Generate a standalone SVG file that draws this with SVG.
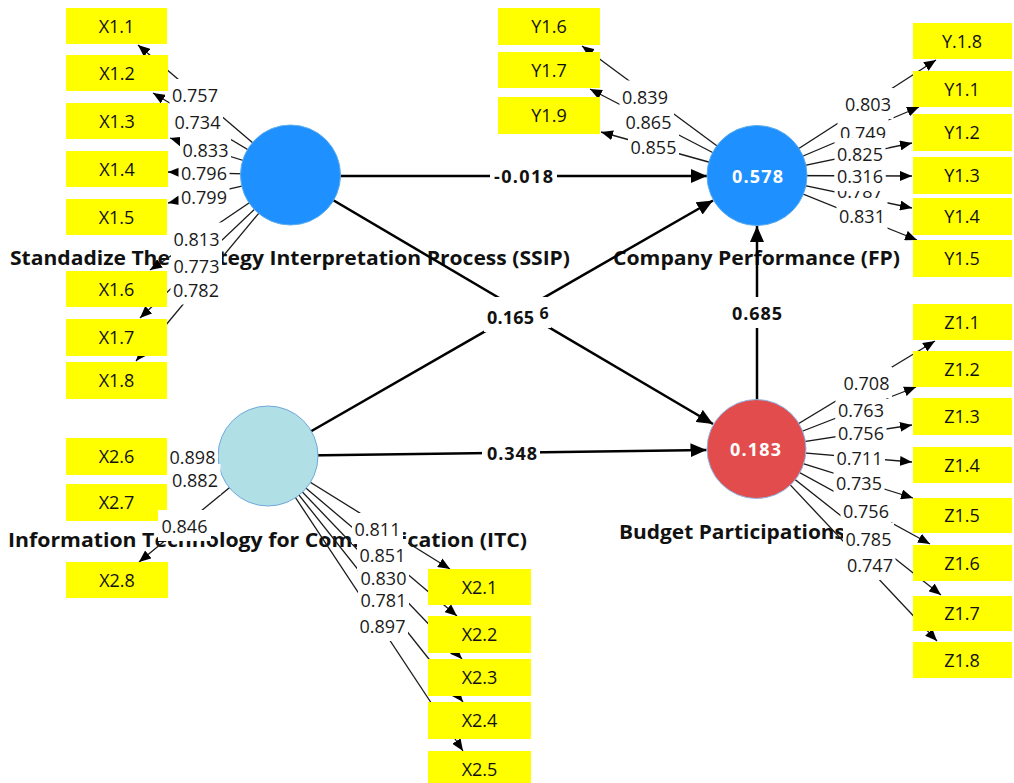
<svg xmlns="http://www.w3.org/2000/svg" width="1014" height="783" viewBox="0 0 1014 783">
<defs>
<marker id="ar" markerUnits="userSpaceOnUse" markerWidth="12" markerHeight="10" refX="12" refY="5" orient="auto"><path d="M0,0L12,5L0,10z" fill="#000"/></marker>
<marker id="AR" markerUnits="userSpaceOnUse" markerWidth="16" markerHeight="14" refX="16" refY="7" orient="auto"><path d="M0,0L16,7L0,14z" fill="#000"/></marker>
</defs>
<style>
text{font-family:"Open Sans","Noto Sans","DejaVu Sans",sans-serif}
.title{font-size:20px;font-weight:bold;fill:#111}
.ol{stroke:#1a1a1a;stroke-width:1.3;fill:none}
.pl{stroke:#000;stroke-width:2.5;fill:none}
.box{fill:#ffff00}
.it{font-size:18px;fill:#111;text-anchor:middle}
.lb{fill:#fff}
.lt{font-size:18px;fill:#1a1a1a;text-anchor:middle}
.pt{font-size:18px;font-weight:bold;fill:#111;text-anchor:middle}
.cv{font-size:18px;font-weight:bold;fill:#fff;text-anchor:middle}
.blue{fill:#1E90FF;stroke:#5DADEC;stroke-width:1}
</style>
<rect width="1014" height="783" fill="#fff"/>

<g id="construct-titles">
<text id="title-SSIP" class="title" x="10" y="265" textLength="560" lengthAdjust="spacingAndGlyphs">Standadize The Strategy Interpretation Process (SSIP)</text>
<text id="title-FP" class="title" x="613" y="265" textLength="287" lengthAdjust="spacingAndGlyphs">Company Performance (FP)</text>
<text id="title-ITC" class="title" x="8" y="547" textLength="519" lengthAdjust="spacingAndGlyphs">Information Technology for Communication (ITC)</text>
<text id="title-BP" class="title" x="619" y="539" textLength="226" lengthAdjust="spacingAndGlyphs">Budget Participations</text>
</g>

<g id="connectors">
<g class="ol" marker-end="url(#ar)">
<line x1="290.5" y1="175" x2="138" y2="45"/>
<line x1="290.5" y1="175" x2="153" y2="93"/>
<line x1="290.5" y1="175" x2="170" y2="138"/>
<line x1="290.5" y1="175" x2="168" y2="172"/>
<line x1="290.5" y1="175" x2="168" y2="203"/>
<line x1="290.5" y1="175" x2="150" y2="270"/>
<line x1="290.5" y1="175" x2="140" y2="318"/>
<line x1="290.5" y1="175" x2="136" y2="361"/>
<line x1="268" y1="456" x2="139" y2="562"/>
<line x1="268" y1="456" x2="450" y2="569"/>
<line x1="268" y1="456" x2="457" y2="616"/>
<line x1="268" y1="456" x2="462" y2="659"/>
<line x1="268" y1="456" x2="463" y2="702"/>
<line x1="268" y1="456" x2="463" y2="751"/>
<line x1="757" y1="175.5" x2="582" y2="46"/>
<line x1="757" y1="175.5" x2="590" y2="89"/>
<line x1="757" y1="175.5" x2="601" y2="132"/>
<line x1="757" y1="175.5" x2="936" y2="60"/>
<line x1="757" y1="175.5" x2="919" y2="107"/>
<line x1="757" y1="175.5" x2="912" y2="143"/>
<line x1="757" y1="175.5" x2="912" y2="176"/>
<line x1="757" y1="175.5" x2="912" y2="208"/>
<line x1="757" y1="175.5" x2="917" y2="240"/>
<line x1="756.5" y1="449" x2="935" y2="341"/>
<line x1="756.5" y1="449" x2="916" y2="387"/>
<line x1="756.5" y1="449" x2="912" y2="425"/>
<line x1="756.5" y1="449" x2="912" y2="462"/>
<line x1="756.5" y1="449" x2="913" y2="498"/>
<line x1="756.5" y1="449" x2="930" y2="544"/>
<line x1="756.5" y1="449" x2="941" y2="595"/>
<line x1="756.5" y1="449" x2="937" y2="641"/>
</g>
<g class="ol">
<line x1="268" y1="456" x2="170" y2="457"/>
<line x1="268" y1="456" x2="170" y2="486"/>
</g>
<g class="pl" marker-end="url(#AR)">
<line x1="290.5" y1="176" x2="707" y2="176"/>
<line x1="290.5" y1="175" x2="713" y2="424"/>
<line x1="268" y1="456" x2="713" y2="200.5"/>
<line x1="268" y1="456" x2="706.5" y2="450"/>
<line x1="757" y1="449" x2="757" y2="226"/>
</g>
</g>

<g id="SSIP"><circle class="blue" cx="290.5" cy="175" r="50"/></g>
<g id="FP"><circle class="blue" cx="757" cy="175.5" r="50"/><text class="cv" x="757.5" y="183" textLength="51">0.578</text></g>
<g id="ITC"><circle cx="268" cy="456" r="50" fill="#B0E0E6" stroke="#6FA8DC" stroke-width="1"/></g>
<g id="BP"><circle cx="756.5" cy="449" r="49.5" fill="#E34C4C" stroke="#8DB9E6" stroke-width="1"/><text class="cv" x="755.5" y="456" textLength="51">0.183</text></g>

<g id="X1_1"><rect class="box" x="66" y="8" width="101" height="36"/><text class="it" x="116.5" y="33">X1.1</text></g>
<g id="X1_2"><rect class="box" x="66" y="55" width="102" height="36"/><text class="it" x="117" y="80">X1.2</text></g>
<g id="X1_3"><rect class="box" x="66" y="103" width="102" height="36"/><text class="it" x="117" y="128">X1.3</text></g>
<g id="X1_4"><rect class="box" x="66" y="151" width="102" height="36"/><text class="it" x="117" y="176">X1.4</text></g>
<g id="X1_5"><rect class="box" x="66" y="199" width="101" height="36"/><text class="it" x="116.5" y="224">X1.5</text></g>
<g id="X1_6"><rect class="box" x="66" y="271" width="101" height="36"/><text class="it" x="116.5" y="296">X1.6</text></g>
<g id="X1_7"><rect class="box" x="66" y="319" width="101" height="37"/><text class="it" x="116.5" y="344">X1.7</text></g>
<g id="X1_8"><rect class="box" x="66" y="362" width="101" height="37"/><text class="it" x="116.5" y="387">X1.8</text></g>
<g id="X2_6"><rect class="box" x="66" y="438" width="101" height="37"/><text class="it" x="116.5" y="463">X2.6</text></g>
<g id="X2_7"><rect class="box" x="66" y="484" width="101" height="37"/><text class="it" x="116.5" y="509">X2.7</text></g>
<g id="X2_8"><rect class="box" x="66" y="562" width="102" height="36"/><text class="it" x="117" y="587">X2.8</text></g>
<g id="X2_1"><rect class="box" x="428" y="569" width="103" height="36"/><text class="it" x="479.5" y="594">X2.1</text></g>
<g id="X2_2"><rect class="box" x="428" y="616" width="103" height="37"/><text class="it" x="479.5" y="641">X2.2</text></g>
<g id="X2_3"><rect class="box" x="428" y="659" width="103" height="37"/><text class="it" x="479.5" y="684">X2.3</text></g>
<g id="X2_4"><rect class="box" x="428" y="702" width="103" height="37"/><text class="it" x="479.5" y="727">X2.4</text></g>
<g id="X2_5"><rect class="box" x="428" y="751" width="103" height="36"/><text class="it" x="479.5" y="776">X2.5</text></g>
<g id="Y1_6"><rect class="box" x="498" y="8" width="102" height="37"/><text class="it" x="549" y="33">Y1.6</text></g>
<g id="Y1_7"><rect class="box" x="498" y="52" width="102" height="36"/><text class="it" x="549" y="77">Y1.7</text></g>
<g id="Y1_9"><rect class="box" x="498" y="97" width="102" height="37"/><text class="it" x="549" y="122">Y1.9</text></g>
<g id="Y_1_8"><rect class="box" x="913" y="23" width="99" height="36"/><text class="it" x="962" y="48">Y.1.8</text></g>
<g id="Y1_1"><rect class="box" x="913" y="71" width="99" height="36"/><text class="it" x="962" y="96">Y1.1</text></g>
<g id="Y1_2"><rect class="box" x="913" y="114" width="99" height="37"/><text class="it" x="962" y="139">Y1.2</text></g>
<g id="Y1_3"><rect class="box" x="913" y="157" width="99" height="37"/><text class="it" x="962" y="182">Y1.3</text></g>
<g id="Y1_4"><rect class="box" x="913" y="198" width="99" height="37"/><text class="it" x="962" y="223">Y1.4</text></g>
<g id="Y1_5"><rect class="box" x="913" y="240" width="99" height="37"/><text class="it" x="962" y="265">Y1.5</text></g>
<g id="Z1_1"><rect class="box" x="913" y="304" width="99" height="36"/><text class="it" x="962" y="329">Z1.1</text></g>
<g id="Z1_2"><rect class="box" x="913" y="351" width="99" height="36"/><text class="it" x="962" y="376">Z1.2</text></g>
<g id="Z1_3"><rect class="box" x="913" y="398" width="99" height="37"/><text class="it" x="962" y="423">Z1.3</text></g>
<g id="Z1_4"><rect class="box" x="913" y="447" width="99" height="36"/><text class="it" x="962" y="472">Z1.4</text></g>
<g id="Z1_5"><rect class="box" x="913" y="498" width="99" height="35"/><text class="it" x="962" y="522">Z1.5</text></g>
<g id="Z1_6"><rect class="box" x="913" y="545" width="99" height="36"/><text class="it" x="962" y="570">Z1.6</text></g>
<g id="Z1_7"><rect class="box" x="913" y="596" width="99" height="35"/><text class="it" x="962" y="620">Z1.7</text></g>
<g id="Z1_8"><rect class="box" x="913" y="642" width="99" height="36"/><text class="it" x="962" y="667">Z1.8</text></g>

<g id="loading-labels">
<rect class="lb" x="170.5" y="273.5" width="51" height="31"/><text class="lt" x="196" y="296.5">0.782</text>
<rect class="lb" x="171" y="250" width="51" height="31"/><text class="lt" x="196.5" y="273">0.773</text>
<rect class="lb" x="171" y="222.5" width="51" height="31"/><text class="lt" x="196.5" y="245.5">0.813</text>
<rect class="lb" x="178.5" y="180.5" width="51" height="31"/><text class="lt" x="204" y="203.5">0.799</text>
<rect class="lb" x="178.5" y="157" width="51" height="31"/><text class="lt" x="204" y="180">0.796</text>
<rect class="lb" x="180" y="133.5" width="51" height="31"/><text class="lt" x="205.5" y="156.5">0.833</text>
<rect class="lb" x="172" y="105.5" width="51" height="31"/><text class="lt" x="197.5" y="128.5">0.734</text>
<rect class="lb" x="169.5" y="79" width="51" height="31"/><text class="lt" x="195" y="102">0.757</text>

<rect class="lb" x="357" y="610" width="51" height="31"/><text class="lt" x="382.5" y="633">0.897</text>
<rect class="lb" x="358" y="584" width="51" height="31"/><text class="lt" x="383.5" y="607">0.781</text>
<rect class="lb" x="358" y="562" width="51" height="31"/><text class="lt" x="383.5" y="585">0.830</text>
<rect class="lb" x="357" y="539" width="51" height="31"/><text class="lt" x="382.5" y="562">0.851</text>
<rect class="lb" x="352" y="513" width="51" height="31"/><text class="lt" x="377.5" y="536">0.811</text>
<rect class="lb" x="158" y="510" width="53" height="31"/><text class="lt" x="184.5" y="533">0.846</text>
<rect class="lb" x="169.5" y="464" width="51" height="31"/><text class="lt" x="195" y="487">0.882</text>
<rect class="lb" x="167" y="441" width="51" height="31"/><text class="lt" x="192.5" y="464">0.898</text>

<rect class="lb" x="628" y="131" width="51" height="31"/><text class="lt" x="653.5" y="154">0.855</text>
<rect class="lb" x="623" y="105.5" width="51" height="31"/><text class="lt" x="648.5" y="128.5">0.865</text>
<rect class="lb" x="619.5" y="80.5" width="51" height="31"/><text class="lt" x="645" y="103.5">0.839</text>

<rect class="lb" x="842.5" y="88" width="51" height="31"/><text class="lt" x="868" y="111">0.803</text>
<rect class="lb" x="837.5" y="116.5" width="51" height="31"/><text class="lt" x="863" y="139.5">0.749</text>
<rect class="lb" x="834.5" y="138" width="51" height="31"/><text class="lt" x="860" y="161">0.825</text>
<rect class="lb" x="834.5" y="175" width="51" height="31"/><text class="lt" x="860" y="198">0.787</text>
<rect class="lb" x="834.5" y="163" width="51" height="28"/><text class="lt" x="860" y="183">0.316</text>
<rect class="lb" x="836.5" y="200" width="51" height="31"/><text class="lt" x="862" y="223">0.831</text>

<rect class="lb" x="844.5" y="549" width="51" height="31"/><text class="lt" x="870" y="572">0.747</text>
<rect class="lb" x="843" y="523" width="51" height="31"/><text class="lt" x="868.5" y="546">0.785</text>
<rect class="lb" x="840.5" y="495" width="51" height="31"/><text class="lt" x="866" y="518">0.756</text>
<rect class="lb" x="833.5" y="467" width="51" height="31"/><text class="lt" x="859" y="490">0.735</text>
<rect class="lb" x="834" y="442" width="51" height="31"/><text class="lt" x="859.5" y="465">0.711</text>
<rect class="lb" x="835.5" y="417" width="51" height="31"/><text class="lt" x="861" y="440">0.756</text>
<rect class="lb" x="835.5" y="394" width="51" height="31"/><text class="lt" x="861" y="417">0.763</text>
<rect class="lb" x="841" y="367" width="51" height="31"/><text class="lt" x="866.5" y="390">0.708</text>
</g>

<g id="path-labels">
<rect class="lb" x="490" y="160" width="67" height="31"/><text class="pt" x="523.5" y="183" textLength="59">-0.018</text>
<rect class="lb" x="494" y="297" width="57" height="31"/><text class="pt" x="544" y="319" style="font-size:16px">6</text>
<rect class="lb" x="484" y="301" width="53" height="31"/><text class="pt" x="510.5" y="324" textLength="47">0.165</text>
<rect class="lb" x="482" y="437" width="58" height="31"/><text class="pt" x="512" y="460" textLength="50">0.348</text>
<rect class="lb" x="729" y="297" width="56" height="31"/><text class="pt" x="757" y="320" textLength="50">0.685</text>
</g>
</svg>
